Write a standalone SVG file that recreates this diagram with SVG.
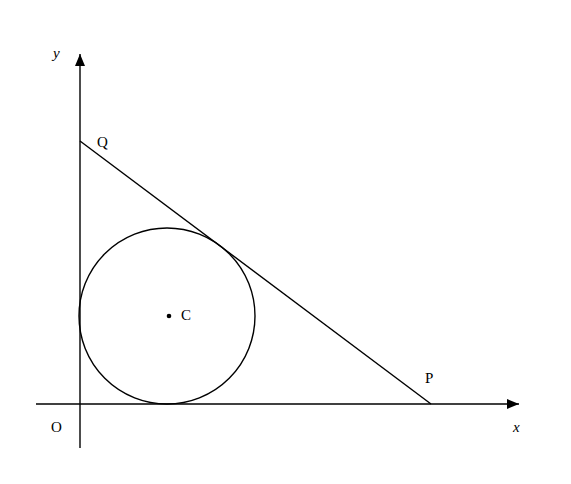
<svg xmlns="http://www.w3.org/2000/svg" width="571" height="484" viewBox="0 0 571 484">
<style>
.ln{stroke:#000;stroke-width:1.4;fill:none}
.t{font-family:"Liberation Serif","Times New Roman",serif;font-size:15px;fill:#000}
.i{font-style:italic}
</style>
<defs>
<marker id="ah" markerWidth="12" markerHeight="10" refX="12" refY="5" orient="auto" markerUnits="userSpaceOnUse">
<path d="M0,0 L12,5 L0,10 Z" fill="#000"/>
</marker>
</defs>
<rect width="571" height="484" fill="#fff"/>
<g id="connectors">
<line class="ln" x1="36" y1="404" x2="519" y2="404" marker-end="url(#ah)"/>
<line class="ln" x1="80" y1="448" x2="80" y2="54" marker-end="url(#ah)"/>
<line class="ln" x1="80" y1="141" x2="431" y2="404"/>
</g>
<g id="circle">
<circle class="ln" cx="167" cy="316" r="88"/>
<circle cx="169" cy="316" r="2.3" fill="#000"/>
<text class="t" x="181" y="320">C</text>
</g>
<g id="labels">
<text class="t i" x="53" y="58">y</text>
<text class="t" x="97" y="147">Q</text>
<text class="t" x="51" y="432">O</text>
<text class="t" x="425" y="383">P</text>
<text class="t i" x="513" y="432">x</text>
</g>
</svg>
